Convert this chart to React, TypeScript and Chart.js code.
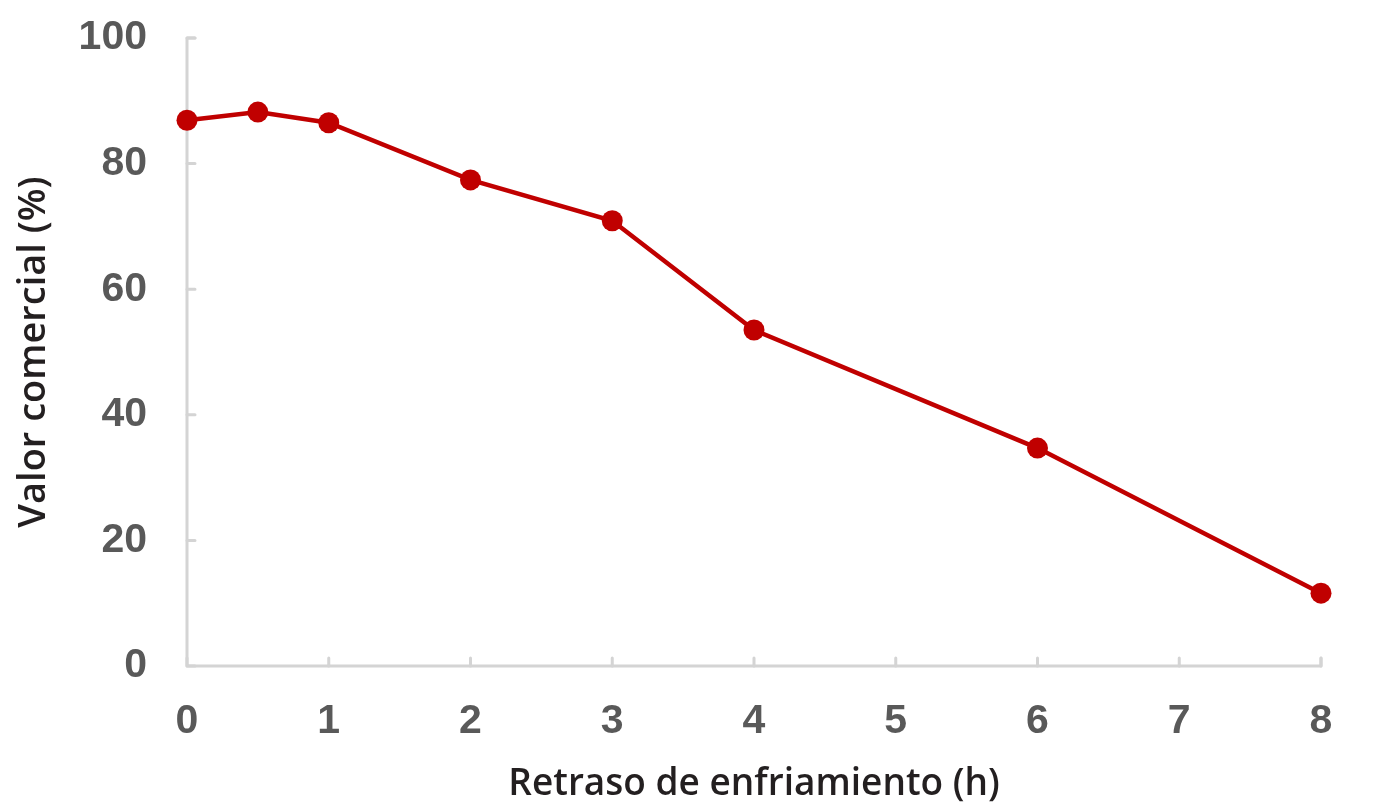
import React, { useEffect, useRef } from "react";
import { Chart, registerables } from "chart.js";

Chart.register(...registerables);

const delayHours = [0, 0.5, 1, 2, 3, 4, 6, 8];
const commercialValue = [86.9, 88.2, 86.5, 77.4, 70.9, 53.5, 34.7, 11.6];
const xTicks = [0, 1, 2, 3, 4, 5, 6, 7, 8];
const yTicks = [0, 20, 40, 60, 80, 100];
const xTitle = "Retraso de enfriamiento (h)";
const yTitle = "Valor comercial (%)";

const AXIS_COLOR = "#d4d4d4";
const LINE_COLOR = "#c00000";

const axesUnder = {
  id: "axesUnder",
  beforeDatasetsDraw(chart: any) {
    const { ctx, chartArea, scales } = chart;
    const len = 8;
    ctx.save();
    ctx.strokeStyle = AXIS_COLOR;
    ctx.lineWidth = 3;
    ctx.lineCap = "round";
    ctx.lineJoin = "round";
    ctx.beginPath();
    ctx.moveTo(chartArea.left + len, chartArea.top);
    ctx.lineTo(chartArea.left, chartArea.top);
    ctx.lineTo(chartArea.left, chartArea.bottom);
    ctx.lineTo(chartArea.right, chartArea.bottom);
    ctx.lineTo(chartArea.right, chartArea.bottom - len);
    ctx.stroke();
    ctx.beginPath();
    for (const v of xTicks) {
      const x = scales.x.getPixelForValue(v);
      ctx.moveTo(x, chartArea.bottom);
      ctx.lineTo(x, chartArea.bottom - len);
    }
    for (const v of yTicks) {
      const y = scales.y.getPixelForValue(v);
      ctx.moveTo(chartArea.left, y);
      ctx.lineTo(chartArea.left + len, y);
    }
    ctx.stroke();
    ctx.restore();
  },
};

export default function App() {
  const ref = useRef<HTMLCanvasElement | null>(null);

  useEffect(() => {
    if (!ref.current) return;
    const chart = new Chart(ref.current, {
      type: "line",
      data: {
        datasets: [
          {
            data: delayHours.map((x, i) => ({ x, y: commercialValue[i] })),
            borderColor: LINE_COLOR,
            backgroundColor: LINE_COLOR,
            borderWidth: 4.5,
            pointRadius: 10.5,
            pointHoverRadius: 10.5,
            pointBorderWidth: 0,
            tension: 0,
            clip: false as any,
          },
        ],
      },
      options: {
        animation: false,
        responsive: false,
        devicePixelRatio: 1,
        layout: { padding: { top: 38, right: 54, left: 0, bottom: 0 } },
        plugins: { legend: { display: false }, tooltip: { enabled: false } },
        scales: {
          x: {
            type: "linear",
            min: 0,
            max: 8,
            afterBuildTicks: (s: any) => {
              s.ticks = xTicks.map((v) => ({ value: v }));
            },
            afterFit: (s: any) => {
              s.height = 144;
            },
            border: { display: false },
            grid: {
              display: true,
              color: "rgba(0,0,0,0)",
              drawOnChartArea: false,
              drawTicks: true,
              tickLength: 29,
            },
            ticks: {
              color: "#595959",
              font: { family: "Liberation Sans", size: 41, weight: "bold" },
              padding: 2,
            },
            title: {
              display: true,
              text: xTitle,
              color: "#231f20",
              font: { family: "Open Sans", size: 37, weight: 600 },
              padding: { top: 4, bottom: 3 },
            },
          },
          y: {
            type: "linear",
            min: 0,
            max: 100,
            afterBuildTicks: (s: any) => {
              s.ticks = yTicks.map((v) => ({ value: v }));
            },
            afterFit: (s: any) => {
              s.width = 187;
            },
            border: { display: false },
            grid: {
              display: true,
              color: "rgba(0,0,0,0)",
              drawOnChartArea: false,
              drawTicks: true,
              tickLength: 38,
            },
            ticks: {
              color: "#595959",
              font: { family: "Liberation Sans", size: 41, weight: "bold" },
              padding: 2,
            },
            title: {
              display: true,
              text: yTitle,
              color: "#231f20",
              font: { family: "Open Sans", size: 38, weight: 600 },
              padding: { top: 11, bottom: 4 },
            },
          },
        },
      },
      plugins: [axesUnder],
    });
    return () => chart.destroy();
  }, []);

  return (
    <div style={{ position: "fixed", left: 0, top: 0, width: 1375, height: 810, background: "#fff" }}>
      <canvas ref={ref} width={1375} height={810} style={{ display: "block" }} />
    </div>
  );
}
